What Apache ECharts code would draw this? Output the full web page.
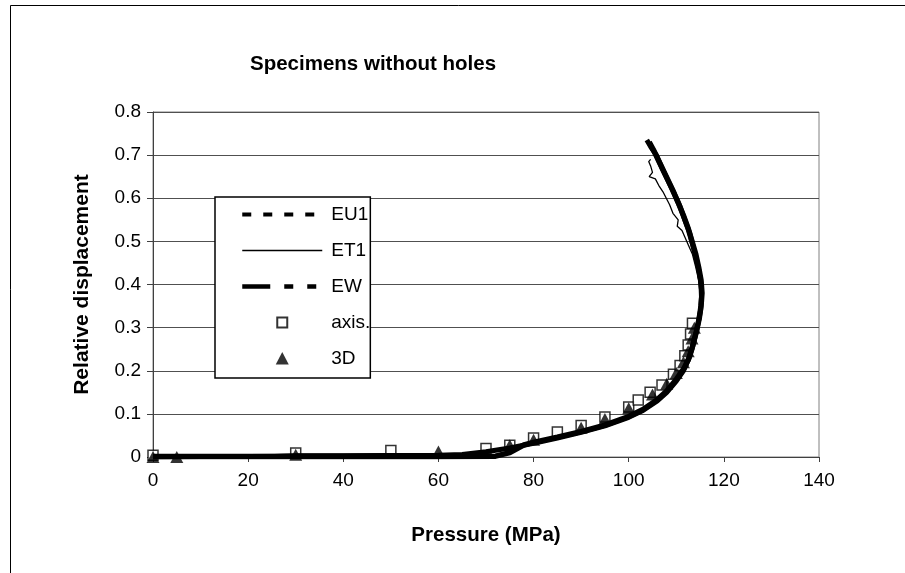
<!DOCTYPE html>
<html>
<head>
<meta charset="utf-8">
<script src="https://cdn.jsdelivr.net/npm/echarts@6/dist/echarts.min.js"></script>
<style>
  html, body { margin: 0; padding: 0; background: #fff; }
  #main { width: 905px; height: 573px; }
</style>
</head>
<body>
<div id="main"></div>
<script>
// pressure (MPa), relative displacement
var eu1 = [[0,0],[10,0.001],[20,0.001],[30,0.002],[40,0.002],[50,0.003],[60,0.004],[65,0.006],[70,0.012],[75,0.021],[80,0.032],[85,0.044],[90,0.057],[95,0.072],[100,0.092],[103,0.108],[106,0.13],[108,0.15],[110,0.176],[111.5,0.2],[112.5,0.225],[113.3,0.25],[114,0.28],[114.6,0.31],[115.1,0.34],[115.3,0.37],[115.2,0.40],[114.8,0.43],[114.2,0.46],[113.5,0.49],[112.8,0.52],[111.8,0.55],[110.8,0.58],[109.6,0.61],[108.3,0.64],[107,0.67],[105.8,0.70],[104.6,0.72],[103.8,0.735]];
var et1 = [[0,0],[10,0.002],[20,0.003],[27,0.006],[30,0.007],[40,0.007],[50,0.008],[60,0.008],[66,0.008],[70,0.013],[75,0.022],[80,0.034],[85,0.046],[90,0.06],[95,0.075],[100,0.095],[103,0.112],[106,0.134],[108,0.155],[110,0.18],[111.6,0.205],[112.6,0.23],[113.4,0.26],[114,0.29],[114.5,0.32],[114.9,0.35],[115,0.38],[114.7,0.41],[114.1,0.44],[113.4,0.47],[112.6,0.49],[111.8,0.51],[111.2,0.525],[110.2,0.535],[110.4,0.55],[109.3,0.565],[108.6,0.585],[107.9,0.6],[107.2,0.615],[106.3,0.63],[105.6,0.645],[104.3,0.65],[105,0.66],[104.6,0.675],[104.2,0.685],[104.6,0.69]];
var ew = [[0,0.001],[20,0.001],[40,0.001],[60,0.001],[72,0.002],[75,0.01],[78,0.028],[80,0.034],[85,0.046],[90,0.059],[95,0.074],[100,0.094],[103,0.11],[106,0.133],[108,0.153],[110,0.18],[111.6,0.205],[112.7,0.23],[113.5,0.26],[114.2,0.29],[114.8,0.32],[115.2,0.35],[115.4,0.38],[115.2,0.41],[114.7,0.44],[114.1,0.47],[113.3,0.50],[112.5,0.53],[111.5,0.56],[110.4,0.59],[109.2,0.62],[107.9,0.65],[106.6,0.68],[105.3,0.71],[104.3,0.73]];
var axisPts = [[0,0.004],[30,0.009],[50,0.015],[70,0.02],[75,0.027],[80,0.044],[85,0.058],[90,0.073],[95,0.093],[100,0.116],[102,0.132],[104.5,0.15],[107,0.167],[109.4,0.192],[110.8,0.212],[111.8,0.235],[112.5,0.26],[113,0.285],[113.4,0.31]];
var pts3d = [[0,0],[5,0],[30,0.005],[60,0.013],[75,0.027],[80,0.04],[90,0.068],[95,0.088],[100,0.113],[105,0.145],[108,0.17],[110,0.195],[111.5,0.22],[112.5,0.245],[113.3,0.275],[113.8,0.3]];

var font = 'Arial, "Liberation Sans", sans-serif';
var myChart = echarts.init(document.getElementById('main'));
var hideSym = { opacity: 0 };
var option = {
  backgroundColor: '#fff',
  animation: false,
  title: {
    text: 'Specimens without holes',
    left: 245,
    top: 49,
    textStyle: { fontFamily: font, fontSize: 20.5, fontWeight: 'bold', color: '#000' }
  },
  graphic: [{
    type: 'rect',
    shape: { x: 10.5, y: 5.5, width: 1000, height: 1000 },
    style: { fill: 'none', stroke: '#000', lineWidth: 1 },
    silent: true
  }],
  legend: {
    orient: 'vertical',
    left: 215,
    top: 197,
    padding: [8, 0, 10, 25],
    itemGap: 17,
    itemWidth: 80,
    itemHeight: 13,
    backgroundColor: '#fff',
    borderColor: '#000',
    borderWidth: 1.5,
    textStyle: { fontFamily: font, fontSize: 19, color: '#000', padding: [0, 0, 0, 4] },
    data: [
      { name: 'EU1', itemStyle: hideSym, lineStyle: { width: 4, type: [9, 12] } },
      { name: 'ET1', itemStyle: hideSym, lineStyle: { width: 1.3 } },
      { name: 'EW', itemStyle: hideSym, lineStyle: { width: 4.5, type: [28, 14, 9, 14, 9, 14] } },
      { name: 'axis.', icon: 'path://M0,0M80,13M35,1.5h10v10h-10z' },
      { name: '3D', icon: 'path://M0,0M80,13M40,0L46.5,12.5H33.5z' }
    ]
  },
  grid: {
    left: 153, right: 86, top: 112, bottom: 116,
    show: true, borderColor: '#808080', borderWidth: 1
  },
  xAxis: {
    type: 'value',
    min: 0, max: 140, interval: 20,
    name: 'Pressure (MPa)',
    nameLocation: 'middle',
    nameGap: 68,
    nameTextStyle: { fontFamily: font, fontSize: 20.5, fontWeight: 'bold', color: '#000' },
    axisLine: { show: true, onZero: false, lineStyle: { color: '#404040', width: 1 } },
    axisTick: { show: true, length: 5, lineStyle: { color: '#404040' } },
    axisLabel: { fontFamily: font, fontSize: 19, color: '#000', margin: 14 },
    splitLine: { show: false }
  },
  yAxis: {
    type: 'value',
    min: 0, max: 0.8, interval: 0.1,
    name: 'Relative displacement',
    nameLocation: 'middle',
    nameGap: 60,
    nameTextStyle: { fontFamily: font, fontSize: 21, fontWeight: 'bold', color: '#000' },
    axisLine: { show: true, lineStyle: { color: '#404040', width: 1 } },
    axisTick: { show: true, length: 6, lineStyle: { color: '#404040' } },
    axisLabel: { fontFamily: font, fontSize: 19, color: '#000', margin: 12 },
    splitLine: { show: true, lineStyle: { color: '#505050', width: 1 } }
  },
  series: [
    {
      name: 'EU1', type: 'line', data: eu1, symbol: 'none',
      lineStyle: { color: '#000', width: 5 },
      itemStyle: { color: '#000' }
    },
    {
      name: 'ET1', type: 'line', data: et1, symbol: 'none',
      lineStyle: { color: '#000', width: 1.3 },
      itemStyle: { color: '#000' }
    },
    {
      name: 'EW', type: 'line', data: ew, symbol: 'none',
      lineStyle: { color: '#000', width: 5.5 },
      itemStyle: { color: '#000' }
    },
    {
      name: 'axis.', type: 'scatter', data: axisPts, symbol: 'rect', symbolSize: 10,
      itemStyle: { color: '#fff', borderColor: '#000', borderWidth: 1.5 }
    },
    {
      name: '3D', type: 'scatter', data: pts3d, symbol: 'triangle', symbolSize: [13, 12],
      itemStyle: { color: '#000' }
    }
  ]
};
myChart.setOption(option);
</script>
</body>
</html>
